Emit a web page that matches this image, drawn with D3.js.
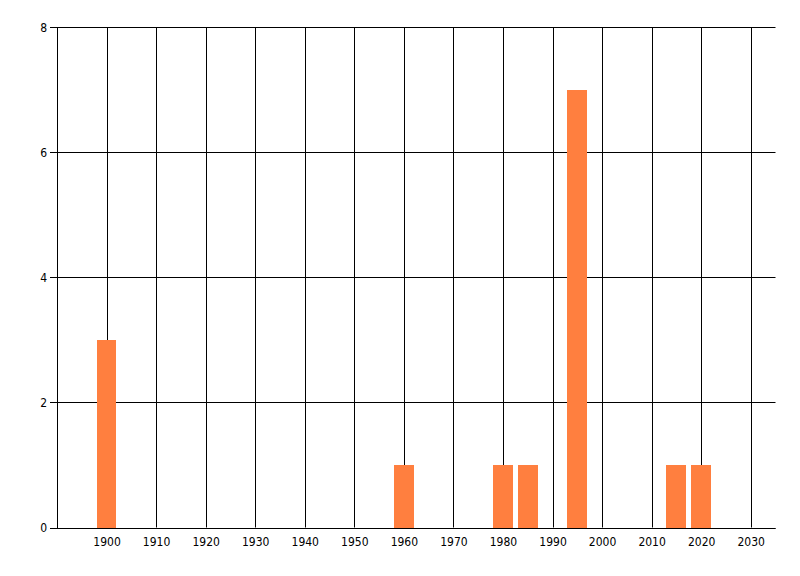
<!DOCTYPE html>
<html>
<head>
<meta charset="utf-8">
<script src="https://cdn.jsdelivr.net/npm/d3@7"></script>
<style>
  html, body { margin: 0; padding: 0; background: #fff; }
  text { font-family: "Liberation Sans Narrow", "DejaVu Sans Condensed", "Liberation Sans", sans-serif; font-size: 12px; fill: #000; }
</style>
</head>
<body>
<svg id="chart" width="800" height="576"></svg>
<script>
const years = [1900, 1960, 1980, 1985, 1995, 2015, 2020];
const counts = [3, 1, 1, 1, 7, 1, 1];
const xTicks = [1900, 1910, 1920, 1930, 1940, 1950, 1960, 1970, 1980, 1990, 2000, 2010, 2020, 2030];
const yTicks = [0, 2, 4, 6, 8];

(function () {
const svg = d3.select("#chart");
const pL = 57, pR = 775.5, pT = 27, pB = 527.5;

const x = d3.scaleLinear().domain([1890, 2035]).range([pL, pR]);
const y = d3.scaleLinear().domain([0, 8]).range([pB, pT]);
const barYears = 4;

// horizontal grid
svg.append("g").selectAll("line").data(yTicks).join("line")
  .attr("x1", pL).attr("x2", pR)
  .attr("y1", d => Math.round(y(d)) + 0.5).attr("y2", d => Math.round(y(d)) + 0.5)
  .attr("stroke", "#000").attr("stroke-width", 1);

// vertical grid
svg.append("g").selectAll("line").data(xTicks).join("line")
  .attr("x1", d => Math.round(x(d)) + 0.5).attr("x2", d => Math.round(x(d)) + 0.5)
  .attr("y1", pT).attr("y2", pB)
  .attr("stroke", "#000").attr("stroke-width", 1);

// bars
svg.append("g").selectAll("rect").data(years).join("rect")
  .attr("x", (d) => Math.round(x(d - barYears / 2)))
  .attr("width", (d) => Math.round(x(d + barYears / 2)) - Math.round(x(d - barYears / 2)))
  .attr("y", (d, i) => Math.round(y(counts[i])))
  .attr("height", (d, i) => Math.round(y(0)) - Math.round(y(counts[i])))
  .attr("fill", "#FF7F3F");

// axes lines
svg.append("line").attr("x1", pL + 0.5).attr("x2", pL + 0.5).attr("y1", pT).attr("y2", pB + 1)
  .attr("stroke", "#000");
svg.append("line").attr("x1", pL).attr("x2", pR).attr("y1", Math.round(y(0)) + 0.5).attr("y2", Math.round(y(0)) + 0.5)
  .attr("stroke", "#000");

// y ticks
const yg = svg.append("g");
yg.selectAll("line").data(yTicks).join("line")
  .attr("x1", pL - 7).attr("x2", pL)
  .attr("y1", d => Math.round(y(d)) + 0.5).attr("y2", d => Math.round(y(d)) + 0.5)
  .attr("stroke", "#000");
yg.selectAll("text").data(yTicks).join("text")
  .attr("x", pL - 10).attr("y", d => y(d) + 4.5)
  .attr("text-anchor", "end").text(d => d);

// x labels
svg.append("g").selectAll("text").data(xTicks).join("text")
  .attr("x", d => x(d) + 0.5).attr("y", pB + 18)
  .attr("text-anchor", "middle").text(d => d);
})();
</script>
</body>
</html>
